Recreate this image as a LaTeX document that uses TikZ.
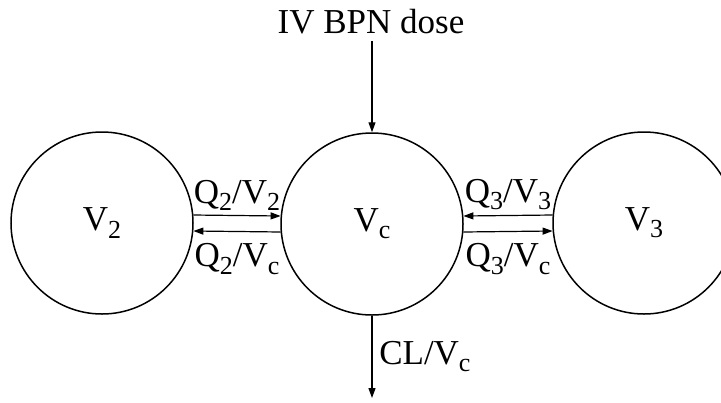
\documentclass[tikz,border=0pt]{standalone}
\usepackage{fontspec}
\setmainfont{Liberation Serif}
\usetikzlibrary{arrows.meta}
\newcommand{\vsub}[2]{#1\raisebox{-0.45ex}{\fontsize{13}{13}\selectfont #2}}
\tikzset{
            comp/.style={draw, circle, minimum size=91pt, inner sep=0pt, line width=0.75pt},
            flow/.style={-{Triangle[length=5pt,width=3.5pt]}, line width=0.6pt}
        }

\begin{document}
\begin{tikzpicture}[
                    x=0.5pt, y=-0.5pt,
                    font=\fontsize{17.5}{21}\selectfont
                    ]
                \useasboundingbox (0,0) rectangle (721,402);
                \clip (0,0) rectangle (721,402);
                % compartments
                \node[comp] (v2) at (102,223) {\vsub{V}{2}};
                \node[comp] (vc) at (372,224) {\vsub{V}{c}};
                \node[comp] (v3) at (644,223) {\vsub{V}{3}};
                \node (dose) at (371,22) {IV BPN dose};
                \coordinate (out) at (372,398);
                % flows
                \draw[flow] (dose.south -| vc) -- (vc);
                \draw[flow] (vc) -- node[right] {CL/\vsub{V}{c}} (out);
                \draw[flow] (v2.5) -- node[above, yshift=-1pt] {\vsub{Q}{2}/\vsub{V}{2}} (vc.175);
                \draw[flow] (vc.185) -- node[below, yshift=-2.5pt] {\vsub{Q}{2}/\vsub{V}{c}} (v2.-5);
                \draw[flow] (v3.175) -- node[above, yshift=-1pt] {\vsub{Q}{3}/\vsub{V}{3}} (vc.5);
                \draw[flow] (vc.-5) -- node[below, yshift=-2.5pt] {\vsub{Q}{3}/\vsub{V}{c}} (v3.185);
            \end{tikzpicture}
\end{document}
